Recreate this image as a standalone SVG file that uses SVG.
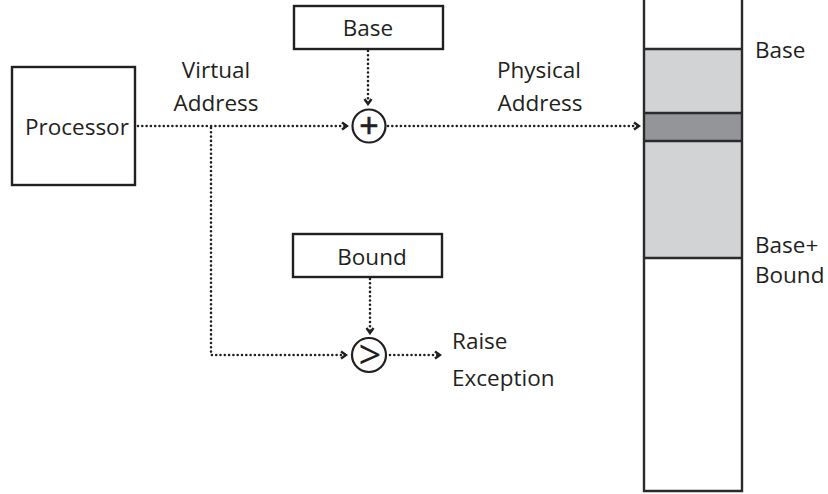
<svg xmlns="http://www.w3.org/2000/svg" width="828" height="494" viewBox="0 0 828 494">
<defs>
<style>
.box{fill:#fff;stroke:#231f20;stroke-width:2.4}
.t{font-family:"Open Sans","Noto Sans","Liberation Sans",sans-serif;font-size:22.5px;fill:#231f20}
.c{text-anchor:middle}
.sym{font-family:"Open Sans","Liberation Sans",sans-serif;fill:#231f20;text-anchor:middle}
.dot{fill:none;stroke:#231f20;stroke-width:2.6;stroke-dasharray:0 4.3;stroke-linecap:round}
.mem{stroke:#2b2b2b;stroke-width:2.4}
</style>
<marker id="ah" viewBox="0 0 8 10" refX="6" refY="5" markerWidth="8" markerHeight="10" markerUnits="userSpaceOnUse" orient="auto">
<path d="M1,1.5 L6,5 L1,8.5" fill="none" stroke="#231f20" stroke-width="2.4" stroke-linejoin="miter"/>
</marker>
</defs>
<rect width="828" height="494" fill="#fff"/>
<g id="connectors">
<path class="dot" d="M138,126 H347" marker-end="url(#ah)"/>
<path class="dot" d="M368,51 V104" marker-end="url(#ah)"/>
<path class="dot" d="M388,126 H639" marker-end="url(#ah)"/>
<path class="dot" d="M211,128 V355 H346" marker-end="url(#ah)"/>
<path class="dot" d="M370,279 V333" marker-end="url(#ah)"/>
<path class="dot" d="M390,355 H440" marker-end="url(#ah)"/>
</g>
<g id="processor">
<rect class="box" x="12" y="67" width="123" height="118"/>
<text class="t" x="25" y="135">Processor</text>
</g>
<g id="virtual-address-label">
<text class="t c" x="216" y="78">Virtual</text>
<text class="t c" x="216" y="111">Address</text>
</g>
<g id="base">
<rect class="box" x="294" y="6" width="149" height="43"/>
<text class="t c" x="368" y="36">Base</text>
</g>
<g id="adder">
<circle cx="369" cy="126" r="16.5" fill="#fff" stroke="#231f20" stroke-width="2.2"/>
<text class="sym" x="369" y="138" font-size="34" stroke="#231f20" stroke-width="0.7">+</text>
</g>
<g id="physical-address-label">
<text class="t c" x="539" y="78">Physical</text>
<text class="t c" x="540" y="111">Address</text>
</g>
<g id="bound">
<rect class="box" x="293" y="234" width="149" height="43"/>
<text class="t c" x="372" y="265">Bound</text>
</g>
<g id="comparator">
<circle cx="369" cy="355" r="17" fill="#fff" stroke="#231f20" stroke-width="2.2"/>
<text class="sym" x="370" y="369" font-size="40">&gt;</text>
</g>
<g id="raise-exception">
<text class="t" x="452" y="349">Raise</text>
<text class="t" x="452" y="386">Exception</text>
</g>
<g id="memory">
<rect x="644" y="49" width="98" height="209" fill="#d1d3d4"/>
<rect x="644" y="113" width="98" height="28" fill="#939598"/>
<path class="mem" d="M644,49 H742 M644,113 H742 M644,141 H742 M644,258 H742" fill="none"/>
<path class="mem" d="M644,-2 V491 H742 V-2" fill="none"/>
<text class="t" x="755" y="58">Base</text>
<text class="t" x="755" y="253">Base+</text>
<text class="t" x="755" y="283">Bound</text>
</g>
</svg>
